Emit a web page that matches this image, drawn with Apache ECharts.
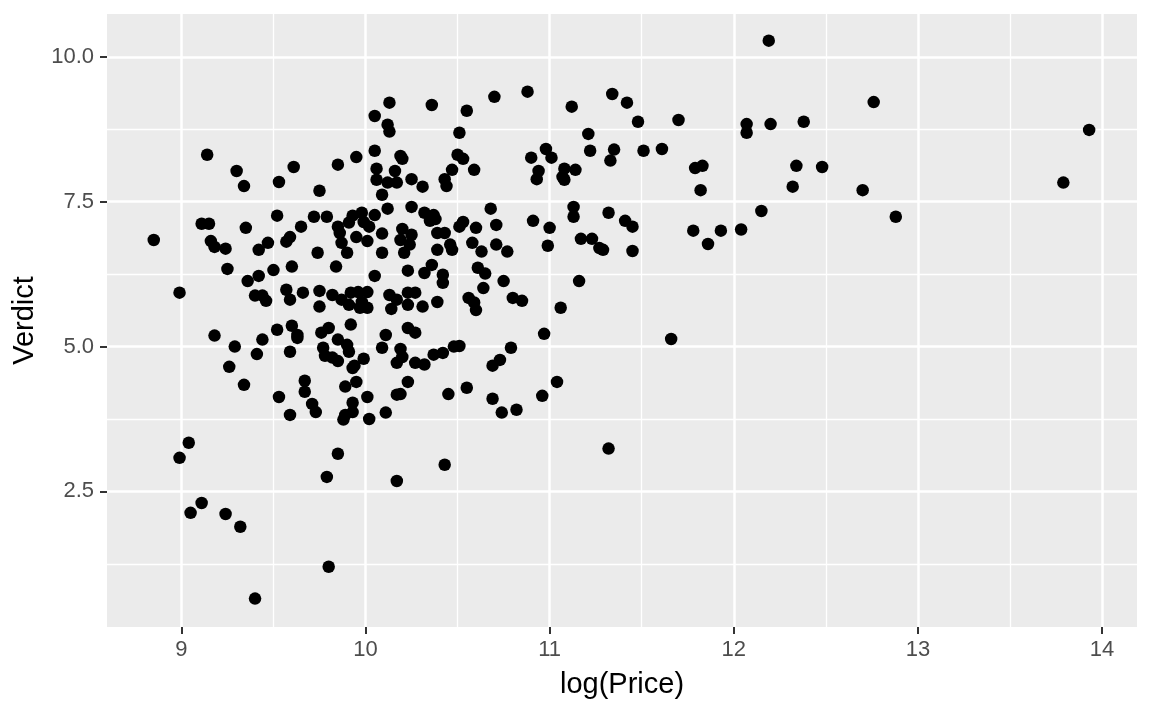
<!DOCTYPE html>
<html>
<head>
<meta charset="utf-8">
<script src="https://cdn.jsdelivr.net/npm/echarts@6/dist/echarts.min.js"></script>
<style>
html,body{margin:0;padding:0;background:#fff;}
#chart{width:1152px;height:711px;}
</style>
</head>
<body>
<div id="chart"></div>
<script>
const logPrice = [
8.85,8.99,8.99,9.04,9.05,9.11,9.24,9.32,9.40,9.14,
9.30,9.34,9.53,9.61,9.52,9.11,9.15,9.35,9.65,9.16,
9.18,9.24,9.47,9.42,9.59,9.57,9.25,9.50,9.60,9.36,
9.42,9.57,9.66,9.40,9.44,9.46,9.59,9.52,9.60,9.18,
9.29,9.41,9.44,9.63,9.63,9.59,9.26,9.34,9.53,9.67,
9.67,9.59,10.13,10.05,10.12,10.13,10.05,9.95,9.85,10.19,
10.20,10.06,10.16,10.06,10.12,10.17,10.25,9.75,10.09,10.12,
10.25,9.72,9.79,9.93,9.98,9.91,9.85,9.86,9.99,10.02,
10.05,9.95,10.01,10.09,9.87,9.90,9.74,10.09,10.20,10.19,
10.25,10.24,10.21,9.84,10.05,10.23,9.75,9.75,9.82,9.87,
9.92,9.91,9.96,9.98,10.01,9.97,10.01,10.13,10.17,10.23,
10.27,10.14,10.23,9.76,9.80,9.92,10.11,10.23,10.27,9.85,
9.90,9.91,9.77,9.78,9.82,9.85,10.09,10.19,10.20,10.17,
10.27,9.99,9.94,9.93,9.95,9.89,10.23,10.01,10.17,10.19,
9.71,9.73,9.93,9.93,9.89,9.88,10.11,10.02,9.85,9.79,
10.17,9.80,10.36,10.55,10.70,10.88,10.51,10.50,10.53,10.59,
10.47,10.43,10.44,10.31,10.90,10.98,11.01,10.94,10.93,10.32,
10.37,10.35,10.38,10.39,10.43,10.39,10.46,10.47,10.51,10.53,
10.60,10.68,10.71,10.58,10.63,10.71,10.77,10.91,11.00,10.99,
10.61,10.65,10.75,10.64,10.36,10.32,10.42,10.42,10.31,10.39,
10.56,10.59,10.60,10.80,10.85,11.06,10.97,10.51,10.48,10.42,
10.37,10.32,10.79,10.73,10.69,10.45,10.55,10.69,10.74,10.82,
10.96,11.04,10.43,12.19,11.34,11.42,11.12,11.48,11.70,12.07,
12.07,12.20,11.21,11.22,11.35,11.33,11.51,11.61,11.08,11.14,
11.07,11.08,11.79,11.83,11.82,11.13,11.13,11.32,11.41,11.45,
11.17,11.23,11.27,11.29,11.45,11.78,11.86,11.93,12.04,12.15,
11.16,11.66,11.32,12.76,12.38,13.93,12.34,12.48,12.32,12.70,
13.79,12.88
];
const verdict = [
6.84,5.93,3.08,3.34,2.13,2.30,2.11,1.89,0.65,8.31,
8.03,7.77,7.84,8.10,7.26,7.12,7.12,7.05,7.07,6.82,
6.72,6.69,6.79,6.67,6.89,6.81,6.34,6.32,6.38,6.13,
6.22,5.98,5.93,5.88,5.88,5.79,5.81,5.29,5.36,5.19,
5.00,4.87,5.12,5.20,5.15,4.91,4.65,4.34,4.13,4.41,
4.22,3.82,9.21,8.98,8.83,8.71,8.38,8.27,8.14,8.29,
8.24,8.07,8.03,7.88,7.83,7.83,7.89,7.69,7.62,7.38,
7.41,7.24,7.24,7.26,7.31,7.14,7.07,6.96,7.15,7.07,
7.27,6.89,6.82,6.95,6.79,6.62,6.62,6.62,7.03,6.84,
6.93,6.76,6.62,6.38,6.22,6.31,5.96,5.69,5.89,5.81,
5.93,5.72,5.94,5.77,5.94,5.67,5.67,5.89,5.81,5.93,
5.93,5.65,5.72,5.24,5.32,5.38,5.20,5.32,5.24,5.12,
5.03,4.91,4.98,4.84,4.81,4.75,4.98,4.96,4.82,4.72,
4.72,4.79,4.67,4.63,4.39,4.31,4.39,4.13,4.17,4.18,
4.01,3.87,4.03,3.87,3.82,3.74,3.86,3.75,3.15,2.75,
2.68,1.20,9.17,9.07,9.31,9.40,8.69,8.31,8.24,8.05,
8.05,7.89,7.77,7.76,8.26,8.41,8.26,8.03,7.89,7.31,
7.27,7.17,7.20,6.96,6.96,6.67,6.76,6.67,7.07,7.15,
7.05,7.38,7.10,6.79,6.64,6.76,6.64,7.17,7.05,6.74,
6.36,6.26,6.13,6.01,6.41,6.27,6.24,6.10,5.69,5.77,
5.84,5.76,5.63,5.84,5.79,5.67,5.22,5.01,5.00,4.89,
4.86,4.69,4.98,4.77,4.67,4.18,4.29,4.10,3.86,3.91,
4.15,4.39,2.96,10.28,9.36,9.21,9.14,8.88,8.91,8.84,
8.69,8.84,8.67,8.38,8.40,8.21,8.38,8.41,8.07,8.05,
7.93,7.88,8.08,8.12,7.70,7.41,7.24,7.31,7.17,7.07,
6.86,6.86,6.70,6.67,6.65,7.00,6.77,7.00,7.02,7.34,
6.13,5.13,3.24,9.22,8.88,8.74,8.12,8.10,7.76,7.70,
7.83,7.24
];
const xMajor = [9, 10, 11, 12, 13, 14];
const xMinor = [9.5, 10.5, 11.5, 12.5, 13.5];
const yMajor = [2.5, 5, 7.5, 10];
const yMinor = [1.25, 3.75, 6.25, 8.75];
const yLabels = ['2.5', '5.0', '7.5', '10.0'];
const xTitle = 'log(Price)';
const yTitle = 'Verdict';

const points = logPrice.map((x, i) => [x, verdict[i]]);

const X_MIN = 8.596, X_MAX = 14.19, Y_MIN = 0.16, Y_MAX = 10.74;
const FONT = 'Liberation Sans, Arial, Helvetica, sans-serif';

const chart = echarts.init(document.getElementById('chart'), null, {renderer: 'canvas'});
chart.setOption({
  animation: false,
  backgroundColor: '#ffffff',
  grid: {left: 107, right: 15, top: 14, bottom: 84, show: true, backgroundColor: '#EBEBEB', borderWidth: 0,
    containLabel: false, outerBoundsMode: 'none'},
  xAxis: [
    {
      type: 'value', min: X_MIN, max: X_MAX,
      axisLine: {show: false},
      axisTick: {show: true, length: 7, customValues: xMajor, lineStyle: {color: '#333333', width: 2}},
      axisLabel: {customValues: xMajor, color: '#4D4D4D', fontSize: 22, fontFamily: FONT, margin: 12},
      splitLine: {show: true, lineStyle: {color: '#ffffff', width: 2.5}},
      name: xTitle, nameLocation: 'middle', nameGap: 43,
      nameTextStyle: {color: '#000000', fontSize: 29, fontFamily: FONT}
    },
    {
      type: 'value', min: X_MIN, max: X_MAX, gridIndex: 0,
      axisLine: {show: false},
      axisTick: {show: false, customValues: xMinor},
      axisLabel: {show: false, customValues: xMinor},
      splitLine: {show: true, lineStyle: {color: '#ffffff', width: 1.3}}
    }
  ],
  yAxis: [
    {
      type: 'value', min: Y_MIN, max: Y_MAX,
      axisLine: {show: false},
      axisTick: {show: true, length: 7, customValues: yMajor, lineStyle: {color: '#333333', width: 2}},
      axisLabel: {customValues: yMajor, color: '#4D4D4D', fontSize: 22, fontFamily: FONT, margin: 13,
        formatter: v => yLabels[yMajor.indexOf(v)] || v.toFixed(1)},
      splitLine: {show: true, lineStyle: {color: '#ffffff', width: 2.5}},
      name: yTitle, nameLocation: 'middle', nameGap: 68, nameRotate: 90,
      nameTextStyle: {color: '#000000', fontSize: 29, fontFamily: FONT}
    },
    {
      type: 'value', min: Y_MIN, max: Y_MAX, gridIndex: 0,
      axisLine: {show: false},
      axisTick: {show: false, customValues: yMinor},
      axisLabel: {show: false, customValues: yMinor},
      splitLine: {show: true, lineStyle: {color: '#ffffff', width: 1.3}}
    }
  ],
  series: [{
    type: 'scatter',
    xAxisIndex: 0, yAxisIndex: 0,
    data: points,
    symbol: 'circle',
    symbolSize: 12.5,
    itemStyle: {color: '#000000', opacity: 1},
    z: 5
  }]
});
</script>
</body>
</html>
